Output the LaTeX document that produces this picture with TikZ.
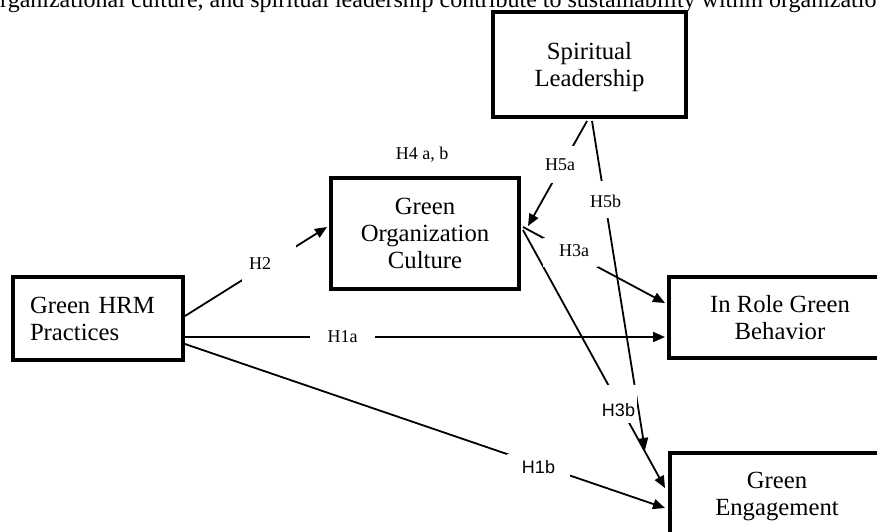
\documentclass[tikz,border=0pt]{standalone}
\usepackage{fontspec}
\setmainfont{Liberation Serif}
\newfontfamily\labsans{Liberation Sans}
\usetikzlibrary{arrows.meta,calc}
\tikzset{
  boxnode/.style={draw, line width=4pt, rectangle, inner sep=0pt, align=center,
    font=\fontsize{24.7}{27}\selectfont, text depth=0pt},
  conn/.style={line width=1.8pt, -{Triangle[length=12pt,width=10pt]}},
  gapmask/.style={fill=white, inner sep=0pt},
  serlab/.style={font=\fontsize{18}{20}\selectfont, inner sep=0pt},
  sanslab/.style={font=\labsans\fontsize{18}{20}\selectfont, inner sep=0pt},
}
\begin{document}
\begin{tikzpicture}[x=1pt,y=-1pt]
\useasboundingbox (0,0) rectangle (877,531);
\clip (0,0) rectangle (877,531);
% cut-off caption line at the top
\node[anchor=base west, inner sep=0pt, font=\fontsize{24}{27}\selectfont] (cap) at (-12,7)
  {organizational culture, and spiritual leadership contribute to sustainability within organizatio};
% boxes
\node[boxnode, minimum width=193pt, minimum height=105pt] (SL) at (589.5,64.5) {Spiritual\\Leadership};
\node[boxnode, minimum width=188pt, minimum height=111pt] (GOC) at (425,233.5) {Green\\Organization\\Culture};
\node[boxnode, minimum width=170pt, minimum height=83pt, text width=136pt, inner xsep=17pt, align=left, text depth=] (HRM) at (98,318.5) {Green HRM\\Practices};
\node[boxnode, minimum width=222pt, minimum height=81pt] (IRGB) at (780,317.5) {In Role Green\\Behavior};
\node[boxnode, minimum width=214pt, minimum height=82pt] (GE) at (777,494) {Green\\Engagement};
\coordinate (H5bend) at ($(GE.north west)+(-23,-1)$);
% connectors
\draw[conn] ($(HRM.east)+(0,-2.5)$) -- ($(GOC.west)+(-2,-6.5)$);
\draw[conn] ($(HRM.east)+(0,18.5)$) -- ($(IRGB.west)+(-2,19.5)$);
\draw[conn] ($(HRM.east)+(0,25.5)$) -- ($(GE.west)+(-3,14)$);
\draw[conn] ($(GOC.east)+(2,-6.5)$) -- ($(IRGB.west)+(-2,-14.5)$);
\draw[conn] ($(GOC.east)+(2,-3.5)$) -- ($(GE.west)+(-3,-6)$);
\draw[conn] ($(SL.south)+(-2.5,2)$) -- ($(GOC.east)+(7,-7.5)$);
\draw[conn] ($(SL.south)+(2.5,2)$) -- (H5bend);
% labels (white text boxes that interrupt the connectors)
\node[gapmask, minimum width=54pt, minimum height=37pt,
  label={[serlab, xshift=-9pt]center:H2}] (lH2) at (269,263.5) {};
\node[gapmask, minimum width=65pt, minimum height=24pt,
  label={[serlab]center:H1a}] (lH1a) at (342.5,337) {};
\node[gapmask, minimum width=63pt, minimum height=24pt,
  label={[sanslab, yshift=-1.5pt]center:H1b}] (lH1b) at (538.5,465.5) {};
\node[gapmask, minimum width=55pt, minimum height=29pt,
  label={[serlab, xshift=3.5pt, yshift=1.5pt]center:H3a}] (lH3a) at (570.5,252.5) {};
\node[gapmask, minimum width=36pt, minimum height=38pt,
  label={[sanslab, yshift=-6pt]center:H3b}] (lH3b) at (618.5,404) {};
\node[gapmask, minimum width=34pt, minimum height=37pt,
  label={[serlab, xshift=-2.5pt]center:H5a}] (lH5a) at (562.5,164.5) {};
\node[gapmask, minimum width=34pt, minimum height=37pt,
  label={[serlab, yshift=-1.5pt]center:H5b}] (lH5b) at (605.5,199.5) {};
\node[serlab] (lH4) at (422,155) {H4 a, b};
\end{tikzpicture}
\end{document}
